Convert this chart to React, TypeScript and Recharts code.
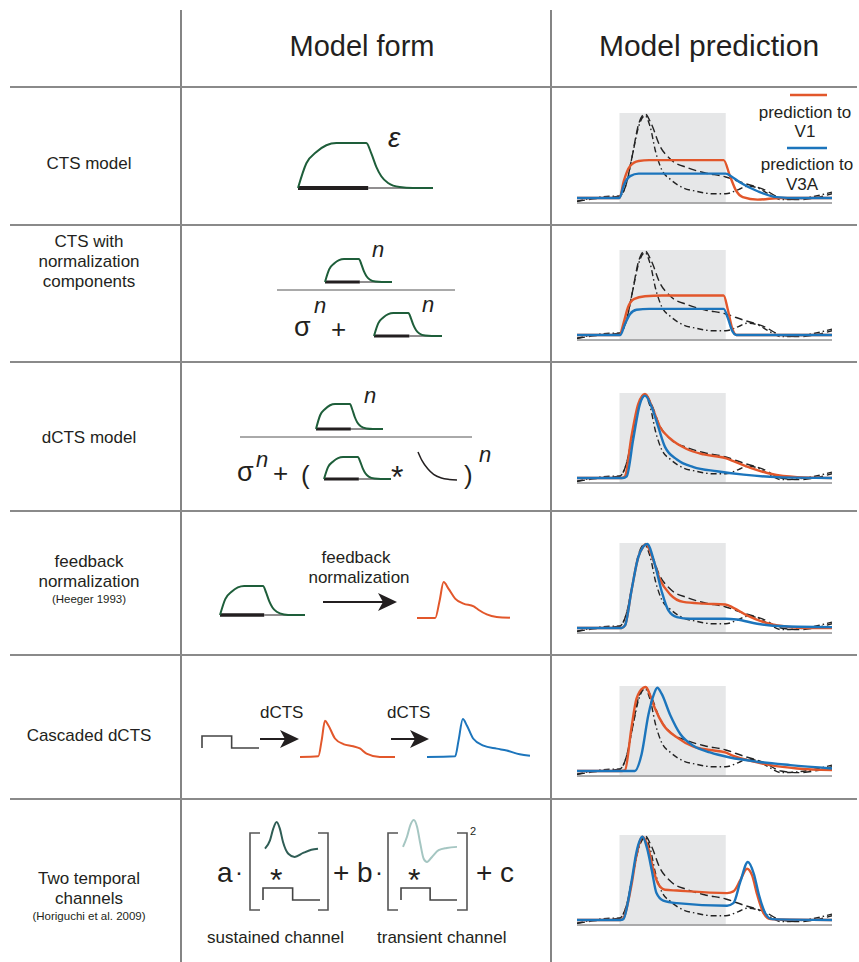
import React from "react";
import { LineChart, Line, XAxis, YAxis, ReferenceArea } from "recharts";

type Pt = [number, number];

// Prediction panels share one time axis (tick units), stimulus shown from 1 to 3.5
const TIME_TICKS = [0, 1, 2, 3, 4, 5, 6];
const STIM_ON = 1;
const STIM_OFF = 3.5;

// measured responses, peak-normalised
const measuredV1: Pt[] = [
  [0, -0.04], [0.4, -0.01], [0.8, 0.01], [1.0, 0.02], [1.15, 0.15], [1.3, 0.5],
  [1.45, 0.88], [1.6, 1.0], [1.75, 0.88], [1.95, 0.62], [2.2, 0.46], [2.6, 0.36],
  [3.0, 0.3], [3.5, 0.25], [3.9, 0.18], [4.4, 0.1], [4.8, 0.0], [5.2, -0.02],
  [5.6, 0.0], [6.0, 0.05],
];
const measuredV3A: Pt[] = [
  [0, -0.04], [0.4, 0.0], [0.8, 0.02], [1.0, 0.02], [1.15, 0.15], [1.3, 0.5],
  [1.45, 0.85], [1.6, 0.98], [1.72, 0.85], [1.85, 0.55], [2.0, 0.33], [2.2, 0.22],
  [2.5, 0.12], [2.8, 0.08], [3.2, 0.05], [3.5, 0.05], [3.8, 0.1], [4.0, 0.14],
  [4.25, 0.12], [4.5, 0.05], [4.8, -0.02], [5.2, -0.01], [5.6, 0.02], [6.0, 0.07],
];

// model predictions, one pair per row
const ctsV1: Pt[] = [
  [0, 0], [1.0, 0], [1.1, 0.2], [1.25, 0.38], [1.45, 0.44], [1.7, 0.45], [3.45, 0.45],
  [3.6, 0.26], [3.75, 0.08], [3.9, 0.01], [4.25, -0.02], [4.8, 0], [6, 0],
];
const ctsV3A: Pt[] = [
  [0, 0], [1.0, 0], [1.1, 0.15], [1.25, 0.26], [1.45, 0.29], [3.5, 0.29], [3.65, 0.25],
  [3.85, 0.18], [4.25, 0.08], [4.7, 0.01], [5.2, 0], [6, 0],
];
const normV1: Pt[] = [
  [0, 0], [1.0, 0], [1.1, 0.15], [1.2, 0.33], [1.35, 0.43], [1.6, 0.46], [2.0, 0.47],
  [3.45, 0.47], [3.55, 0.3], [3.65, 0.08], [3.75, 0], [6, 0],
];
const normV3A: Pt[] = [
  [0, 0], [1.02, 0], [1.12, 0.12], [1.25, 0.25], [1.4, 0.3], [1.7, 0.31], [3.45, 0.31],
  [3.55, 0.2], [3.65, 0.05], [3.75, 0], [6, 0],
];
const dctsV1: Pt[] = [
  [0, 0], [1.05, 0], [1.13, 0.02], [1.28, 0.49], [1.44, 0.88], [1.6, 1.0], [1.8, 0.8],
  [1.95, 0.61], [2.19, 0.47], [2.58, 0.345], [2.98, 0.28], [3.49, 0.235], [3.68, 0.2],
  [4.08, 0.12], [4.55, 0.05], [5.18, 0.01], [6, 0],
];
const dctsV3A: Pt[] = [
  [0, 0], [1.08, 0], [1.17, 0.02], [1.32, 0.45], [1.48, 0.88], [1.6, 0.98], [1.76, 0.84],
  [1.91, 0.61], [2.07, 0.37], [2.35, 0.22], [2.74, 0.13], [3.29, 0.08], [3.92, 0.04],
  [4.7, 0.01], [6, 0],
];
const feedbackV1: Pt[] = [
  [0, 0], [1.05, 0], [1.13, 0.03], [1.28, 0.44], [1.44, 0.84], [1.56, 0.97], [1.62, 1.0],
  [1.8, 0.8], [1.95, 0.58], [2.19, 0.4], [2.5, 0.31], [2.98, 0.29], [3.49, 0.28],
  [3.68, 0.24], [4.0, 0.15], [4.39, 0.07], [4.87, 0.02], [5.34, 0], [6, 0],
];
const feedbackV3A: Pt[] = [
  [0, 0], [1.05, 0], [1.13, 0.03], [1.28, 0.44], [1.44, 0.84], [1.56, 0.97], [1.65, 1.0],
  [1.83, 0.76], [1.99, 0.44], [2.15, 0.21], [2.35, 0.13], [2.66, 0.11], [3.49, 0.11],
  [3.76, 0.1], [4.24, 0.05], [4.87, 0.02], [6, 0.01],
];
const cascadeV1: Pt[] = [
  [0, 0], [1.05, 0], [1.13, 0.01], [1.28, 0.51], [1.4, 0.86], [1.56, 0.99], [1.62, 1.0],
  [1.72, 0.9], [1.83, 0.75], [2.03, 0.55], [2.35, 0.4], [2.74, 0.29], [3.13, 0.25],
  [3.49, 0.22], [3.68, 0.18], [4.08, 0.12], [4.55, 0.07], [5.18, 0.03], [6, 0.01],
];
const cascadeV3A: Pt[] = [
  [0, 0], [1.36, 0], [1.52, 0.2], [1.68, 0.67], [1.8, 0.9], [1.89, 0.99], [1.99, 0.92],
  [2.19, 0.67], [2.43, 0.44], [2.74, 0.3], [3.13, 0.22], [3.6, 0.16], [4.24, 0.11],
  [5.02, 0.07], [6, 0.03],
];
const twoChannelV1: Pt[] = [
  [0, 0], [1.02, 0], [1.09, 0.02], [1.28, 0.41], [1.4, 0.77], [1.54, 0.99], [1.68, 0.85],
  [1.8, 0.59], [1.91, 0.43], [2.07, 0.36], [2.35, 0.35], [3.53, 0.32], [3.68, 0.34],
  [3.84, 0.47], [4.0, 0.61], [4.12, 0.53], [4.24, 0.3], [4.39, 0.08], [4.55, 0.01], [6, 0],
];
const twoChannelV3A: Pt[] = [
  [0, 0], [1.02, 0], [1.09, 0.01], [1.28, 0.45], [1.4, 0.81], [1.54, 0.99], [1.65, 0.85],
  [1.76, 0.59], [1.87, 0.32], [2.03, 0.23], [2.35, 0.2], [3.53, 0.17], [3.68, 0.2],
  [3.84, 0.45], [4.02, 0.69], [4.16, 0.55], [4.28, 0.3], [4.43, 0.08], [4.59, 0.01], [6, 0],
];

// schematic shapes for the model-form column (x and y normalised 0..1)
const ctsShape: Pt[] = [
  [0, 0], [0.062, 0.55], [0.136, 0.8], [0.21, 0.95], [0.284, 1.0], [0.506, 1.0],
  [0.543, 0.77], [0.58, 0.47], [0.617, 0.26], [0.667, 0.11], [0.753, 0.02], [0.85, 0], [1, 0],
];
const stimOnBar: Pt[] = [[0, 0], [0.52, 0]];
const stimOffLine: Pt[] = [[0.52, 0], [1, 0]];
const feedbackShape: Pt[] = [
  [0, 0], [0.196, 0], [0.243, 0.48], [0.286, 1.0], [0.34, 0.81], [0.41, 0.54], [0.5, 0.4],
  [0.61, 0.32], [0.66, 0.23], [0.75, 0.1], [0.857, 0.03], [1, 0.01],
];
const cascadeStage1: Pt[] = [
  [0, 0], [0.193, 0.02], [0.228, 0.45], [0.263, 0.98], [0.298, 0.86], [0.368, 0.5],
  [0.456, 0.35], [0.56, 0.29], [0.63, 0.23], [0.7, 0.09], [0.84, 0], [1, 0],
];
const cascadeStage2: Pt[] = [
  [0, 0], [0.274, 0.02], [0.306, 0.43], [0.348, 1.0], [0.387, 0.83], [0.45, 0.48],
  [0.548, 0.3], [0.677, 0.22], [0.774, 0.17], [0.9, 0.07], [1, 0.03],
];
const stepInput: Pt[] = [[0, 0], [0, 1], [0.52, 1], [0.52, 0], [1, 0]];
const expFilter: Pt[] = [[0, 1], [0.1, 0.7], [0.25, 0.4], [0.4, 0.2], [0.6, 0.07], [0.8, 0.02], [1, 0]];
const sustainedIRF: Pt[] = [
  [0, 0], [0.094, 0.31], [0.156, 0.75], [0.22, 1.0], [0.28, 0.75], [0.34, 0.25], [0.44, -0.19],
  [0.56, -0.31], [0.72, -0.16], [0.875, -0.04], [1, 0],
];
const transientIRF: Pt[] = [
  [0, 0], [0.074, 0.375], [0.136, 0.81], [0.2, 1.0], [0.26, 0.75], [0.32, 0.125], [0.383, -0.44],
  [0.444, -0.56], [0.537, -0.375], [0.66, -0.125], [0.81, -0.04], [1, 0],
];

const rowLabels = [
  ["CTS model"],
  ["CTS with", "normalization", "components"],
  ["dCTS model"],
  ["feedback", "normalization"],
  ["Cascaded dCTS"],
  ["Two temporal", "channels"],
];
const rowCitations = ["", "", "", "(Heeger 1993)", "", "(Horiguchi et al. 2009)"];
const predictions: [Pt[], Pt[]][] = [
  [ctsV1, ctsV3A],
  [normV1, normV3A],
  [dctsV1, dctsV3A],
  [feedbackV1, feedbackV3A],
  [cascadeV1, cascadeV3A],
  [twoChannelV1, twoChannelV3A],
];

const FONT = "'Liberation Sans', Arial, Helvetica, sans-serif";
const INK = "#231f20";
const ORANGE = "#e2572b";
const BLUE = "#1c75bc";
const GREEN = "#1e5e3a";
const RULE = "#8a8a8a";

const panelAxisY = [203, 340, 483, 633, 776, 925];
const rowLineY = [87, 225, 362, 511, 655, 799];
const labelTop = [169, 247, 443, 567, 741, 884];

const toRows = (pts: Pt[]) => pts.map(([t, v]) => ({ t, v }));

function Prediction({ axisY, v1, v3a }: { axisY: number; v1: Pt[]; v3a: Pt[] }) {
  return (
    <div style={{ position: "absolute", left: 573, top: axisY - 97 }}>
      <LineChart width={263} height={105} margin={{ top: 4, right: 4, bottom: 0, left: 4 }}>
        <XAxis
          type="number"
          dataKey="t"
          domain={[0, 6]}
          ticks={TIME_TICKS}
          tick={false}
          tickSize={5}
          height={8}
          stroke="#58595b"
          allowDataOverflow
        />
        <YAxis type="number" hide domain={[-0.06, 1.047]} allowDataOverflow />
        <ReferenceArea
          x1={STIM_ON}
          x2={STIM_OFF}
          y1={-0.05}
          y2={1.01}
          fill="#e6e7e8"
          fillOpacity={1}
          stroke="none"
        />
        <Line data={toRows(measuredV3A)} dataKey="v" type="monotone" stroke="#222" strokeWidth={1.4}
          strokeDasharray="6 3 1.5 3" dot={false} isAnimationActive={false} />
        <Line data={toRows(measuredV1)} dataKey="v" type="monotone" stroke="#222" strokeWidth={1.4}
          strokeDasharray="8 4" dot={false} isAnimationActive={false} />
        <Line data={toRows(v1)} dataKey="v" type="monotone" stroke={ORANGE} strokeWidth={2.4}
          dot={false} isAnimationActive={false} />
        <Line data={toRows(v3a)} dataKey="v" type="monotone" stroke={BLUE} strokeWidth={2.4}
          dot={false} isAnimationActive={false} />
      </LineChart>
    </div>
  );
}

type Stroke = { pts: Pt[]; color: string; w: number; curve?: "monotone" | "linear" };

// small schematic trace; box = [left, top, width, height] of the data domain on the page
function Trace({ box, yDomain = [0, 1], strokes }: { box: number[]; yDomain?: number[]; strokes: Stroke[] }) {
  const pad = 4;
  const [left, top, width, height] = box;
  return (
    <div style={{ position: "absolute", left: left - pad, top: top - pad }}>
      <LineChart width={width + 2 * pad} height={height + 2 * pad} margin={{ top: pad, right: pad, bottom: pad, left: pad }}>
        <XAxis type="number" dataKey="t" domain={[0, 1]} hide />
        <YAxis type="number" domain={yDomain} hide />
        {strokes.map((s, i) => (
          <Line key={i} data={toRows(s.pts)} dataKey="v" type={s.curve ?? "monotone"} stroke={s.color}
            strokeWidth={s.w} dot={false} isAnimationActive={false} />
        ))}
      </LineChart>
    </div>
  );
}

const ctsGlyph = (box: number[], bar: number) => (
  <Trace
    box={box}
    strokes={[
      { pts: stimOffLine, color: INK, w: 1, curve: "linear" },
      { pts: stimOnBar, color: INK, w: bar, curve: "linear" },
      { pts: ctsShape, color: GREEN, w: 2 },
    ]}
  />
);

function Arrow({ x1, x2, y }: { x1: number; x2: number; y: number }) {
  return (
    <g>
      <line x1={x1} x2={x2 - 10} y1={y} y2={y} stroke={INK} strokeWidth={2} />
      <polygon points={`${x2},${y} ${x2 - 19},${y - 9} ${x2 - 14},${y} ${x2 - 19},${y + 9}`} fill={INK} />
    </g>
  );
}

function Bracket({ x, side }: { x: number; side: "l" | "r" }) {
  const d = side === "l" ? `M${x + 10},833 H${x} V910 H${x + 10}` : `M${x - 10},833 H${x} V910 H${x - 10}`;
  return <path d={d} fill="none" stroke="#555" strokeWidth={1.6} />;
}

export default function App() {
  const txt = { fontFamily: FONT, fill: INK };
  return (
    <div style={{ position: "absolute", left: 0, top: 0, width: 859, height: 962, background: "#fff", overflow: "hidden" }}>
      <svg width={859} height={962} style={{ position: "absolute", left: 0, top: 0 }}>
        <line x1={181} x2={181} y1={10} y2={962} stroke="#333" strokeWidth={1.2} />
        <line x1={551} x2={551} y1={10} y2={962} stroke="#333" strokeWidth={1.2} />
        {rowLineY.map((y) => (
          <line key={y} x1={10} x2={857} y1={y} y2={y} stroke={RULE} strokeWidth={2} />
        ))}
        <text x={362} y={56} textAnchor="middle" fontSize={29} {...txt}>Model form</text>
        <text x={709} y={56} textAnchor="middle" fontSize={30} {...txt}>Model prediction</text>

        {rowLabels.map((lines, r) => (
          <g key={r}>
            {lines.map((s, i) => (
              <text key={i} x={89} y={labelTop[r] + i * 20} textAnchor="middle" fontSize={17} {...txt}>{s}</text>
            ))}
            {rowCitations[r] && (
              <text x={89} y={labelTop[r] + lines.length * 20 - 4} textAnchor="middle" fontSize={11.5} {...txt}>
                {rowCitations[r]}
              </text>
            )}
          </g>
        ))}

        {/* row 1 */}
        <text x={388} y={147} fontSize={28} fontStyle="italic" {...txt}>ε</text>
        {/* row 2 */}
        <text x={372} y={257} fontSize={22} fontStyle="italic" {...txt}>n</text>
        <line x1={277} x2={455} y1={290} y2={290} stroke="#555" strokeWidth={1} />
        <text x={294} y={336} fontSize={27} {...txt}>σ</text>
        <text x={314} y={313} fontSize={22} fontStyle="italic" {...txt}>n</text>
        <text x={331} y={338} fontSize={26} {...txt}>+</text>
        <text x={422} y={312} fontSize={22} fontStyle="italic" {...txt}>n</text>
        {/* row 3 */}
        <text x={364} y={403} fontSize={22} fontStyle="italic" {...txt}>n</text>
        <line x1={240} x2={472} y1={437} y2={437} stroke="#555" strokeWidth={1} />
        <text x={237} y={481} fontSize={27} {...txt}>σ</text>
        <text x={256} y={467} fontSize={22} fontStyle="italic" {...txt}>n</text>
        <text x={273} y={482} fontSize={26} {...txt}>+</text>
        <text x={301} y={484} fontSize={26} {...txt}>(</text>
        <text x={391} y={488} fontSize={32} {...txt}>*</text>
        <text x={464} y={484} fontSize={26} {...txt}>)</text>
        <text x={479} y={462} fontSize={22} fontStyle="italic" {...txt}>n</text>
        {/* row 4 */}
        <text x={356} y={563} textAnchor="middle" fontSize={17} {...txt}>feedback</text>
        <text x={359} y={583} textAnchor="middle" fontSize={17} {...txt}>normalization</text>
        <Arrow x1={323} x2={397} y={602} />
        {/* row 5 */}
        <text x={260} y={718} fontSize={17} {...txt}>dCTS</text>
        <text x={387} y={718} fontSize={17} {...txt}>dCTS</text>
        <Arrow x1={260} x2={299} y={739} />
        <Arrow x1={391} x2={429} y={739} />
        {/* row 6 */}
        <text x={217} y={882} fontSize={28} {...txt}>a</text>
        <text x={235} y={880} fontSize={24} {...txt}>·</text>
        <Bracket x={250} side="l" />
        <text x={270} y={891} fontSize={32} {...txt}>*</text>
        <Bracket x={328} side="r" />
        <text x={333} y={882} fontSize={28} {...txt}>+</text>
        <text x={357} y={882} fontSize={28} {...txt}>b</text>
        <text x={375} y={880} fontSize={24} {...txt}>·</text>
        <Bracket x={388} side="l" />
        <text x={408} y={891} fontSize={32} {...txt}>*</text>
        <Bracket x={467} side="r" />
        <text x={470} y={835} fontSize={11} {...txt}>2</text>
        <text x={476} y={882} fontSize={28} {...txt}>+</text>
        <text x={500} y={882} fontSize={28} {...txt}>c</text>
        <text x={207} y={943} fontSize={17} {...txt}>sustained channel</text>
        <text x={377} y={943} fontSize={17} {...txt}>transient channel</text>
      </svg>

      {ctsGlyph([298, 143, 135, 45], 4)}
      {ctsGlyph([325, 259, 67, 23], 3)}
      {ctsGlyph([374, 313, 68, 23], 3)}
      {ctsGlyph([316, 404, 67, 25], 3)}
      {ctsGlyph([324, 457, 67, 22], 3)}
      <Trace box={[418, 452, 39, 28]} strokes={[{ pts: expFilter, color: INK, w: 1.5 }]} />
      {ctsGlyph([220, 586, 85, 29], 3.5)}
      <Trace box={[417, 582, 93, 36]} strokes={[{ pts: feedbackShape, color: ORANGE, w: 2 }]} />
      <Trace box={[202, 736, 57, 12]} strokes={[{ pts: stepInput, color: "#444", w: 1.6, curve: "linear" }]} />
      <Trace box={[300, 720, 95, 37]} strokes={[{ pts: cascadeStage1, color: ORANGE, w: 2 }]} />
      <Trace box={[427, 719, 103, 38]} strokes={[{ pts: cascadeStage2, color: BLUE, w: 2 }]} />
      <Trace box={[265, 822, 53, 36]} yDomain={[-0.35, 1]} strokes={[{ pts: sustainedIRF, color: "#2f5d55", w: 2 }]} />
      <Trace box={[263, 888, 57, 12]} strokes={[{ pts: stepInput, color: "#444", w: 1.6, curve: "linear" }]} />
      <Trace box={[403, 820, 54, 43]} yDomain={[-0.6, 1]} strokes={[{ pts: transientIRF, color: "#a5c6c2", w: 2 }]} />
      <Trace box={[401, 888, 56, 12]} strokes={[{ pts: stepInput, color: "#444", w: 1.6, curve: "linear" }]} />

      {predictions.map(([v1, v3a], r) => (
        <Prediction key={r} axisY={panelAxisY[r]} v1={v1} v3a={v3a} />
      ))}

      <svg width={859} height={962} style={{ position: "absolute", left: 0, top: 0, pointerEvents: "none" }}>
        <line x1={790} x2={827} y1={95} y2={95} stroke={ORANGE} strokeWidth={2.6} />
        <text x={805} y={118} textAnchor="middle" fontSize={17} fontFamily={FONT} fill={INK}>prediction to</text>
        <text x={805} y={137} textAnchor="middle" fontSize={17} fontFamily={FONT} fill={INK}>V1</text>
        <line x1={787} x2={827} y1={148} y2={148} stroke={BLUE} strokeWidth={2.6} />
        <text x={807} y={170} textAnchor="middle" fontSize={17} fontFamily={FONT} fill={INK}>prediction to</text>
        <text x={802} y={190} textAnchor="middle" fontSize={17} fontFamily={FONT} fill={INK}>V3A</text>
      </svg>
    </div>
  );
}
